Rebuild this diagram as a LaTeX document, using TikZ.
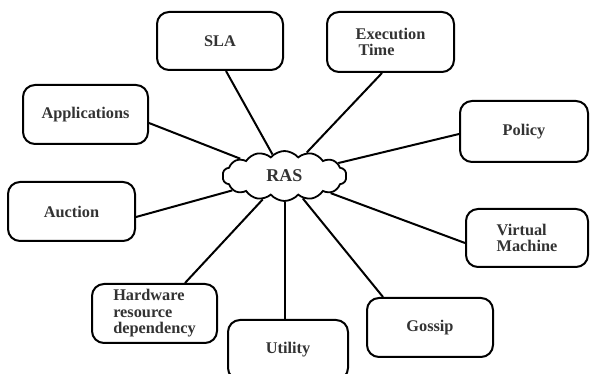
\documentclass[tikz,border=0pt]{standalone}
\usepackage{fontspec}
\setmainfont{Liberation Serif}
\usetikzlibrary{shapes.symbols}
\definecolor{txt}{HTML}{333333}
\begin{document}
\begin{tikzpicture}[x=1pt,y=-1pt,
  topic/.style={draw=black, line width=2pt, rounded corners=12pt, fill=white,
    inner sep=2pt, font=\bfseries\fontsize{16.3}{16.5}\selectfont, text=txt, align=left},
  link/.style={line width=2pt, black},
  hub/.style={cloud, cloud puffs=14, cloud puff arc=100, aspect=2.5, draw=black,
    line width=1.8pt, fill=white, minimum width=124pt, minimum height=50pt,
    inner sep=0pt, font=\bfseries\fontsize{18}{18}\selectfont, text=txt}]
\useasboundingbox (0,0) rectangle (590,374);
\clip (0,0) rectangle (590,374);
\fill[white] (0,0) rectangle (590,374);

\node[topic, minimum width=126pt, minimum height=58pt] (sla) at (220,41) {SLA};
\node[topic, minimum width=125pt, minimum height=59pt] (app) at (85.5,114.5) {Applications};
\node[topic, minimum width=127pt, minimum height=60pt] (exec) at (390.5,42) {Execution\\\hspace{3pt}Time};
\node[topic, minimum width=128pt, minimum height=61pt] (pol) at (524,131.5) {Policy};
\node[topic, minimum width=127pt, minimum height=59pt] (auc) at (71.5,211.5) {Auction};
\node[topic, minimum width=125pt, minimum height=59pt] (hw) at (154.5,313.5) {Hardware\\resource\\dependency};
\node[topic, minimum width=120pt, minimum height=60pt] (util) at (288,350) {Utility};
\node[topic, minimum width=122pt, minimum height=58pt] (vm) at (527,238) {Virtual\\Machine};
\node[topic, minimum width=126pt, minimum height=59pt] (gos) at (430,327.5) {Gossip};

\node[hub] (ras) at (284.5,176) {RAS};

\draw[link] ([xshift=6pt]sla.south) -- (ras);
\draw[link] ([yshift=-8.5pt]app.east) -- (ras);
\draw[link] ([xshift=-8.5pt]exec.south) -- (ras);
\draw[link] ([yshift=-2.5pt]pol.west) -- (ras);
\draw[link] ([yshift=-5.5pt]auc.east) -- (ras);
\draw[link] ([xshift=30.5pt]hw.north) -- (ras);
\draw[link] ([xshift=-3pt]util.north) -- ([xshift=-3pt]util.north |- ras.south);
\draw[link] ([xshift=-47pt]gos.north) -- (ras);
\draw[link] ([yshift=-5pt]vm.west) -- (ras);
\end{tikzpicture}
\end{document}
